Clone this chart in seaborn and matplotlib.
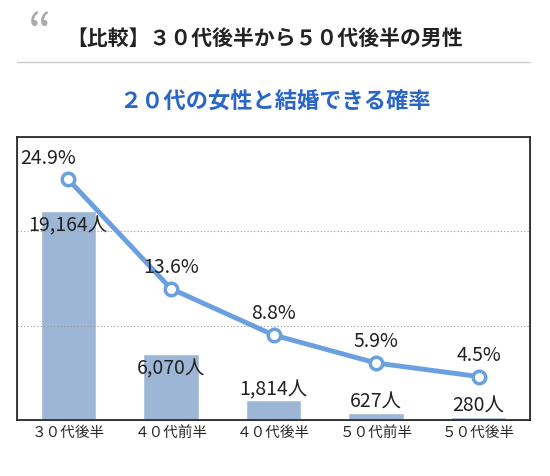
import matplotlib
matplotlib.use("Agg")
import matplotlib.pyplot as plt
import seaborn as sns
import pandas as pd

categories = ["３０代後半", "４０代前半", "４０代後半", "５０代前半", "５０代後半"]
counts = [19164, 6070, 1814, 627, 280]
rates = [24.9, 13.6, 8.8, 5.9, 4.5]
title = "【比較】３０代後半から５０代後半の男性"
subtitle = "２０代の女性と結婚できる確率"

sns.set_theme(style="white")
plt.rcParams['font.family'] = ['Noto Sans CJK JP', 'DejaVu Sans']

df = pd.DataFrame({"cat": categories, "count": counts, "rate": rates})

fig = plt.figure(figsize=(5.5, 4.76), dpi=100)
ax = fig.add_axes([17/550, 1-420/476, 513/550, 283/476])
sns.barplot(data=df, x="cat", y="count", color="#9db6d6", width=0.54, ax=ax, saturation=1)
ax.set_ylim(0, 26000)
ax.set_xlim(-0.5, 4.5)
ax.set_yticks([])
ax.set_xlabel(""); ax.set_ylabel("")
ax.tick_params(axis='x', length=0, labelsize=10.5, pad=4)
for s in ax.spines.values():
    s.set_color("#999999"); s.set_linewidth(0.8)
for i, c in enumerate(counts):
    ax.text(i, c - 2300 if c > 5000 else max(c, 0) + 30, f"{c:,}人", ha="center", va="bottom",
            fontsize=14, color="#222222")

ax2 = ax.twinx()
ax2.set_ylim(0, 29.3)
for g in [1/3, 2/3]:
    ax2.axhline(29.3 * g, color="#999999", ls=(0, (1, 2)), lw=0.8, zorder=0)
sns.lineplot(x=list(range(5)), y=rates, ax=ax2, color="#6a9fe0", lw=3.5, marker="o",
             markersize=9, markerfacecolor="white", markeredgecolor="#6a9fe0", markeredgewidth=2.5)
ax2.set_yticks([])
for i, r in enumerate(rates):
    ax2.text(i - (0.2 if i == 0 else 0), r + 1.1, f"{r}%", ha="center", va="bottom", fontsize=14, color="#222222")

fig.text(40/550, 1-36/476, "“", fontsize=36, color="#aaaaaa", va="center", ha="center")
fig.text(66/550, 1-38/476, title, fontsize=15, fontweight="bold", color="#222222", va="center")
fig.add_artist(plt.Line2D([17/550, 530/550], [1-62/476, 1-62/476], color="#cccccc", lw=1))
fig.text(0.5, 1-101/476, subtitle, fontsize=16, fontweight="bold", color="#2a66c8", va="center", ha="center")
fig.savefig("out.png", dpi=100, facecolor="white")
